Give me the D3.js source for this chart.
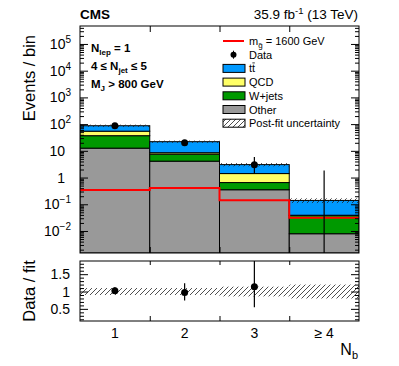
<!DOCTYPE html>
<html>
<head>
<meta charset="utf-8">
<script src="https://cdn.jsdelivr.net/npm/d3@7"></script>
<style>
body { margin: 0; background: #fff; }
text { font-family: "Liberation Sans", Arial, Helvetica, sans-serif; }
</style>
</head>
<body>
<svg id="chart" width="399" height="366"></svg>
<script>
// values
const binLabels = ["1", "2", "3", "\u2265 4"];
const otherBkg = [12.6, 4.1, 0.35, 0.0079];
const wjetsBkg = [24.3, 3.4, 0.30, 0.030];
const qcdBkg = [17.4, 1.0, 0.76, 0.001];
const ttbarBkg = [32.7, 13.5, 1.64, 0.10];
const signal1600 = [0.34, 0.41, 0.142, 0.031];
const dataObs = [87, 20, 3, 0];
const dataErrUp = [10.4, 5.5, 2.9, 1.84];
const dataErrDn = [9.3, 4.4, 1.6, 0];
const fitUnc = [0.10, 0.10, 0.14, 0.20];
const ratioVal = [1.02, 0.97, 1.14, null];
const ratioHi = [1.12, 1.24, 2.0, null];
const ratioLo = [0.93, 0.74, 0.55, null];

const left = 80, right = 359;
const mainTop = 26, mainBot = 253;
const ratTop = 261, ratBot = 321;

const svg = d3.select("#chart");

// hatch pattern for post-fit uncertainty
const defs = svg.append("defs");
const pat = defs.append("pattern")
  .attr("id", "hatch")
  .attr("patternUnits", "userSpaceOnUse")
  .attr("width", 5).attr("height", 5);
pat.append("path")
  .attr("d", "M-1,1 l2,-2 M0,5 l5,-5 M4,6 l2,-2")
  .attr("stroke", "#222").attr("stroke-width", 0.8);
defs.append("clipPath").attr("id", "clipMain")
  .append("rect").attr("x", left).attr("y", mainTop).attr("width", right - left).attr("height", mainBot - mainTop);
defs.append("clipPath").attr("id", "clipRat")
  .append("rect").attr("x", left).attr("y", ratTop).attr("width", right - left).attr("height", ratBot - ratTop);

const x = d3.scaleLinear().domain([0.5, 4.5]).range([left, right]);
const y = d3.scaleLog().domain([1.5e-3, 4.7e5]).range([mainBot, mainTop]);
const yr = d3.scaleLinear().domain([0.15, 1.88]).range([ratBot, ratTop]);
const yMin = y.domain()[0];

const table = binLabels.map((b, i) => ({
  bin: i + 1, other: otherBkg[i], wjets: wjetsBkg[i], qcd: qcdBkg[i], ttbar: ttbarBkg[i]
}));
const keys = ["other", "wjets", "qcd", "ttbar"];
const colors = { other: "#999999", wjets: "#009900", qcd: "#ffff66", ttbar: "#0099ff" };
const stacked = d3.stack().keys(keys)(table);
const totals = table.map(d => keys.reduce((s, k) => s + d[k], 0));

const gMain = svg.append("g").attr("clip-path", "url(#clipMain)");

stacked.forEach(layer => {
  gMain.selectAll(".bar-" + layer.key)
    .data(layer).enter()
    .append("rect")
    .attr("x", d => x(d.data.bin - 0.5))
    .attr("width", x(1.5) - x(0.5))
    .attr("y", d => y(d[1]))
    .attr("height", d => y(Math.max(d[0], yMin)) - y(d[1]))
    .attr("fill", colors[layer.key])
    .attr("stroke", "#000")
    .attr("stroke-width", 1);
});

// post-fit uncertainty on total
gMain.selectAll(".unc")
  .data(totals).enter()
  .append("rect")
  .attr("x", (d, i) => x(i + 0.5))
  .attr("width", x(1.5) - x(0.5))
  .attr("y", (d, i) => y(d * (1 + fitUnc[i])))
  .attr("height", (d, i) => y(d * (1 - fitUnc[i])) - y(d * (1 + fitUnc[i])))
  .attr("fill", "url(#hatch)");

// signal histogram
const sigPts = [];
signal1600.forEach((v, i) => { sigPts.push([i + 0.5, v]); sigPts.push([i + 1.5, v]); });
gMain.append("path")
  .datum(sigPts)
  .attr("fill", "none")
  .attr("stroke", "#ff0000")
  .attr("stroke-width", 2)
  .attr("d", d3.line().x(d => x(d[0])).y(d => y(d[1])));

// data
gMain.selectAll(".derr")
  .data(dataObs).enter()
  .append("line")
  .attr("x1", (d, i) => x(i + 1)).attr("x2", (d, i) => x(i + 1))
  .attr("y1", (d, i) => y(d + dataErrUp[i]))
  .attr("y2", (d, i) => d - dataErrDn[i] > 0 ? y(d - dataErrDn[i]) : mainBot)
  .attr("stroke", "#000").attr("stroke-width", 1.2);
gMain.selectAll(".dpt")
  .data(dataObs.filter(d => d > 0)).enter()
  .append("circle")
  .attr("cx", (d, i) => x(i + 1)).attr("cy", d => y(d))
  .attr("r", 3.5).attr("fill", "#000");

// main frame and axes
function logLabel(g, v, xr) {
  const e = Math.round(Math.log10(v));
  const t = g.append("text").attr("y", y(v) + 5).attr("font-size", 14).attr("text-anchor", "end");
  if (e === 0 || e === 1) {
    t.attr("x", xr - 6).text(e === 0 ? "1" : "10");
  } else {
    t.attr("x", xr);
    t.append("tspan").text("10");
    t.append("tspan").attr("dy", -6).attr("font-size", 10).text(e < 0 ? "\u2212" + (-e) : e);
  }
}
const allTicks = y.ticks();
const majors = allTicks.filter(v => Math.abs(Math.log10(v) - Math.round(Math.log10(v))) < 1e-9);
const minors = allTicks.filter(v => majors.indexOf(v) < 0);

svg.append("g").attr("transform", `translate(${left},0)`)
  .call(d3.axisLeft(y).tickValues(majors).tickSize(-8).tickFormat(""))
  .call(g => g.select(".domain").remove());
svg.append("g").attr("transform", `translate(${left},0)`)
  .call(d3.axisLeft(y).tickValues(minors).tickSize(-4).tickFormat(""))
  .call(g => g.select(".domain").remove());
svg.append("g").attr("transform", `translate(${right},0)`)
  .call(d3.axisRight(y).tickValues(majors).tickSize(-8).tickFormat(""))
  .call(g => g.select(".domain").remove());
svg.append("g").attr("transform", `translate(${right},0)`)
  .call(d3.axisRight(y).tickValues(minors).tickSize(-4).tickFormat(""))
  .call(g => g.select(".domain").remove());
const labG = svg.append("g");
majors.forEach(v => logLabel(labG, v, 71));

const edges = [1.5, 2.5, 3.5];
svg.append("g").attr("transform", `translate(0,${mainBot})`)
  .call(d3.axisBottom(x).tickValues(edges).tickSize(-6).tickFormat(""))
  .call(g => g.select(".domain").remove());
svg.append("g").attr("transform", `translate(0,${mainTop})`)
  .call(d3.axisTop(x).tickValues(edges).tickSize(-6).tickFormat(""))
  .call(g => g.select(".domain").remove());
svg.append("rect").attr("x", left).attr("y", mainTop)
  .attr("width", right - left).attr("height", mainBot - mainTop)
  .attr("fill", "none").attr("stroke", "#000").attr("stroke-width", 1);

// ratio panel
const gRat = svg.append("g").attr("clip-path", "url(#clipRat)");
gRat.selectAll(".rband")
  .data(fitUnc).enter()
  .append("rect")
  .attr("x", (d, i) => x(i + 0.5))
  .attr("width", x(1.5) - x(0.5))
  .attr("y", d => yr(1 + d))
  .attr("height", d => yr(1 - d) - yr(1 + d))
  .attr("fill", "url(#hatch)");
const ratPts = ratioVal.map((v, i) => ({ bin: i + 1, v: v, hi: ratioHi[i], lo: ratioLo[i] })).filter(d => d.v !== null);
gRat.selectAll(".rerr")
  .data(ratPts).enter()
  .append("line")
  .attr("x1", d => x(d.bin)).attr("x2", d => x(d.bin))
  .attr("y1", d => yr(d.hi)).attr("y2", d => yr(d.lo))
  .attr("stroke", "#000").attr("stroke-width", 1.2);
gRat.selectAll(".rpt")
  .data(ratPts).enter()
  .append("circle")
  .attr("cx", d => x(d.bin)).attr("cy", d => yr(d.v))
  .attr("r", 3.5).attr("fill", "#000");

const rMajor = [0.5, 1, 1.5];
const rMinor = d3.range(2, 19).map(v => v / 10).filter(v => rMajor.indexOf(v) < 0);
svg.append("g").attr("transform", `translate(${left},0)`)
  .call(d3.axisLeft(yr).tickValues(rMajor).tickSize(-8).tickPadding(10).tickFormat(d3.format("")))
  .call(g => g.select(".domain").remove())
  .call(g => g.selectAll("text").attr("font-size", 14).attr("fill", "#000").attr("font-family", null));
svg.append("g").attr("transform", `translate(${left},0)`)
  .call(d3.axisLeft(yr).tickValues(rMinor).tickSize(-4).tickFormat(""))
  .call(g => g.select(".domain").remove());
svg.append("g").attr("transform", `translate(${right},0)`)
  .call(d3.axisRight(yr).tickValues(rMajor).tickSize(-8).tickFormat(""))
  .call(g => g.select(".domain").remove());
svg.append("g").attr("transform", `translate(${right},0)`)
  .call(d3.axisRight(yr).tickValues(rMinor).tickSize(-4).tickFormat(""))
  .call(g => g.select(".domain").remove());
svg.append("g").attr("transform", `translate(0,${ratBot})`)
  .call(d3.axisBottom(x).tickValues(edges).tickSize(-5).tickFormat(""))
  .call(g => g.select(".domain").remove());
svg.append("g").attr("transform", `translate(0,${ratTop})`)
  .call(d3.axisTop(x).tickValues(edges).tickSize(-4).tickFormat(""))
  .call(g => g.select(".domain").remove());
svg.append("rect").attr("x", left).attr("y", ratTop)
  .attr("width", right - left).attr("height", ratBot - ratTop)
  .attr("fill", "none").attr("stroke", "#000").attr("stroke-width", 1);

// bin labels
svg.selectAll(".blab")
  .data(binLabels).enter()
  .append("text")
  .attr("x", (d, i) => x(i + 1)).attr("y", 338)
  .attr("text-anchor", "middle").attr("font-size", 14)
  .text(d => d);

// axis titles
const nb = svg.append("text").attr("x", 358).attr("y", 355).attr("text-anchor", "end").attr("font-size", 16);
nb.append("tspan").text("N");
nb.append("tspan").attr("dy", 4).attr("font-size", 11).text("b");
svg.append("text")
  .attr("transform", "translate(35,35) rotate(-90)")
  .attr("text-anchor", "end").attr("font-size", 16.5)
  .text("Events / bin");
svg.append("text")
  .attr("transform", "translate(35,291) rotate(-90)")
  .attr("text-anchor", "middle").attr("font-size", 16.5)
  .text("Data / fit");

// header
svg.append("text").attr("x", 80).attr("y", 19).attr("font-size", 13.5).attr("font-weight", "bold").text("CMS");
const lumi = svg.append("text").attr("x", 358).attr("y", 19).attr("text-anchor", "end").attr("font-size", 13.5);
lumi.append("tspan").text("35.9 fb");
lumi.append("tspan").attr("dy", -5).attr("font-size", 9.5).text("-1");
lumi.append("tspan").attr("dy", 5).text(" (13 TeV)");

// selection text
const info = svg.append("g").attr("font-weight", "bold").attr("font-size", 11.5);
const t1 = info.append("text").attr("x", 91).attr("y", 52);
t1.append("tspan").text("N");
t1.append("tspan").attr("dy", 3).attr("font-size", 8).text("lep");
t1.append("tspan").attr("dy", -3).text(" = 1");
const t2 = info.append("text").attr("x", 91).attr("y", 70);
t2.append("tspan").text("4 \u2264 N");
t2.append("tspan").attr("dy", 3).attr("font-size", 8).text("jet");
t2.append("tspan").attr("dy", -3).text(" \u2264 5");
const t3 = info.append("text").attr("x", 91).attr("y", 88);
t3.append("tspan").text("M");
t3.append("tspan").attr("dy", 3).attr("font-size", 8).text("J");
t3.append("tspan").attr("dy", -3).text(" > 800 GeV");

// legend
const legItems = [
  { type: "line", label: "sig" },
  { type: "data", label: "Data" },
  { type: "box", key: "ttbar", label: "ttbar" },
  { type: "box", key: "qcd", label: "QCD" },
  { type: "box", key: "wjets", label: "W+jets" },
  { type: "box", key: "other", label: "Other" },
  { type: "hatch", label: "Post-fit uncertainty" }
];
const leg = svg.append("g");
legItems.forEach((it, i) => {
  const cy = 41 + i * 13.7;
  if (it.type === "line") {
    leg.append("line").attr("x1", 223).attr("x2", 244).attr("y1", cy).attr("y2", cy)
      .attr("stroke", "#ff0000").attr("stroke-width", 2);
  } else if (it.type === "data") {
    leg.append("line").attr("x1", 233.5).attr("x2", 233.5).attr("y1", cy - 4).attr("y2", cy + 4)
      .attr("stroke", "#000").attr("stroke-width", 1);
    leg.append("circle").attr("cx", 233.5).attr("cy", cy).attr("r", 3).attr("fill", "#000");
  } else {
    leg.append("rect").attr("x", 223).attr("y", cy - 4).attr("width", 22).attr("height", 8)
      .attr("fill", it.type === "hatch" ? "url(#hatch)" : colors[it.key])
      .attr("stroke", "#000").attr("stroke-width", 1);
  }
  const t = leg.append("text").attr("x", 249).attr("y", cy + 4).attr("font-size", 11);
  if (it.label === "sig") {
    t.append("tspan").text("m");
    t.append("tspan").attr("dy", 3).attr("font-size", 8).text("g\u0303");
    t.append("tspan").attr("dy", -3).text(" = 1600 GeV");
  } else if (it.label === "ttbar") {
    const a = t.append("tspan").text("t");
    t.append("tspan").text("t");
    const w1 = a.node().getComputedTextLength();
    leg.append("line")
      .attr("x1", 249 + w1 + 0.3).attr("x2", 249 + 2 * w1 - 0.3)
      .attr("y1", cy - 5.5).attr("y2", cy - 5.5)
      .attr("stroke", "#000").attr("stroke-width", 0.8);
  } else {
    t.text(it.label);
  }
});
</script>
</body>
</html>
